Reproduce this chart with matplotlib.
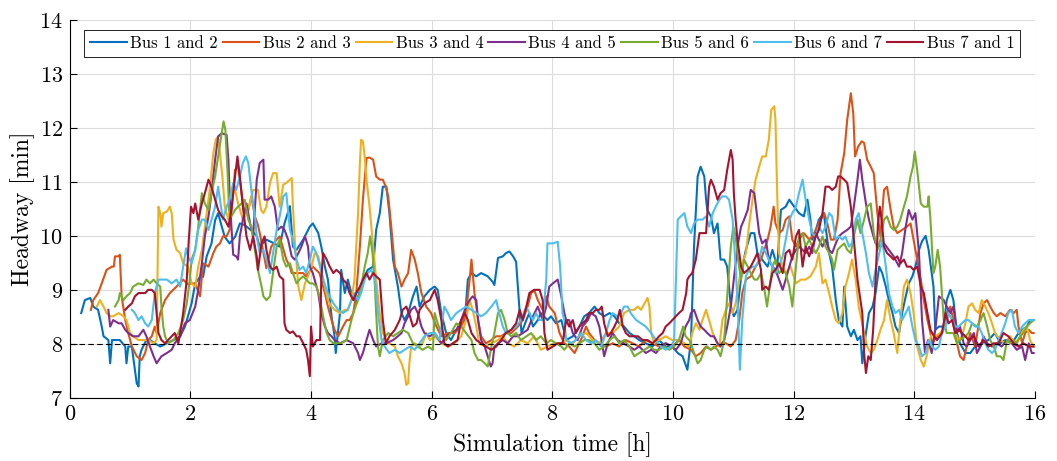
import matplotlib
matplotlib.use("Agg")
import matplotlib.pyplot as plt

plt.rcParams['font.family'] = 'serif'
plt.rcParams['font.serif'] = ['cmr10']
plt.rcParams['mathtext.fontset'] = 'cm'
plt.rcParams['axes.formatter.use_mathtext'] = True

# headway readings, (time [h], headway [min]) per bus pair
bus12 = [(0.19,8.57),(0.25,8.81),(0.34,8.85),(0.39,8.69),(0.47,8.63),(0.53,8.32),(0.56,8.14),(0.64,8.07),(0.67,7.64),(0.70,8.07),
         (0.75,8.07),(0.83,8.07),(0.92,7.95),(0.94,7.64),(0.97,7.95),(1.03,7.95),(1.05,7.77),(1.08,7.52),(1.11,7.27),(1.14,7.21),
         (1.16,7.77),(1.19,7.89),(1.27,8.07),(1.33,8.07),(1.41,8.01),(1.50,7.95),(1.61,8.01),(1.72,8.07),(1.83,8.14),(1.91,8.32),
         (1.96,8.51),(2.02,8.75),(2.08,9.12),(2.16,9.24),(2.21,9.24),(2.27,9.62),(2.35,9.86),(2.41,10.29),(2.46,10.42),(2.52,10.17),
         (2.57,9.98),(2.65,9.86),(2.74,9.98),(2.82,10.23),(2.90,10.20),(3.01,10.10),(3.10,10.00),(3.15,9.80),(3.26,9.93),(3.37,9.87),
         (3.48,9.80),(3.56,10.23),(3.65,10.55),(3.70,9.80),(3.76,9.74),(3.87,9.93),(3.98,10.17),(4.03,10.23),(4.12,10.05),(4.17,9.80),
         (4.23,9.43),(4.28,9.19),(4.34,8.51),(4.39,8.14),(4.41,7.83),(4.48,8.57),(4.50,9.37),(4.56,8.94),(4.61,9.19),(4.67,8.94),
         (4.75,8.75),(4.86,9.19),(4.94,9.37),(5.03,9.43),(5.08,10.11),(5.14,10.42),(5.19,10.91),(5.25,10.91),(5.30,10.42),(5.36,9.56),
         (5.44,9.06),(5.50,8.57),(5.55,8.44),(5.61,8.57),(5.69,8.88),(5.75,9.06),(5.80,8.69),(5.88,8.88),(5.97,9.00),(6.05,9.06),
         (6.10,9.00),(6.16,8.57),(6.24,8.20),(6.32,8.07),(6.38,8.20),(6.46,8.32),(6.55,8.44),(6.60,9.19),(6.66,9.31),(6.74,9.25),
         (6.82,9.31),(6.93,9.25),(7.01,9.15),(7.04,9.09),(7.10,9.59),(7.18,9.62),(7.23,9.68),(7.29,9.71),(7.35,9.62),(7.40,9.52),
         (7.46,8.57),(7.49,8.20),(7.57,8.44),(7.62,8.57),(7.68,8.32),(7.76,8.44),(7.81,8.57),(7.92,8.44),(7.98,8.51),(8.06,8.38),
         (8.15,8.44),(8.23,8.07),(8.34,8.14),(8.45,8.32),(8.53,8.51),(8.61,8.57),(8.70,8.69),(8.78,8.57),(8.86,8.51),(8.95,8.57),
         (9.03,8.51),(9.11,8.38),(9.19,8.32),(9.28,8.20),(9.36,8.14),(9.44,8.07),(9.55,8.01),(9.66,7.95),(9.77,8.07),(9.88,7.95),
         (9.99,7.95),(10.08,7.83),(10.16,7.77),(10.24,7.52),(10.30,8.07),(10.35,9.80),(10.41,11.10),(10.46,11.28),(10.52,11.10),(10.55,10.67),
         (10.57,10.48),(10.63,10.36),(10.68,10.05),(10.74,10.23),(10.79,9.56),(10.85,9.56),(10.90,9.43),(10.96,8.69),(11.01,8.51),(11.07,8.63),
         (11.15,9.43),(11.21,9.74),(11.29,10.05),(11.35,10.05),(11.40,9.68),(11.48,9.56),(11.57,9.43),(11.65,9.74),(11.73,9.43),(11.79,10.48),
         (11.87,10.54),(11.93,10.67),(12.01,10.54),(12.09,10.42),(12.17,10.36),(12.23,10.67),(12.28,10.30),(12.31,9.93),(12.37,10.11),(12.42,10.30),
         (12.50,10.42),(12.59,9.68),(12.64,9.43),(12.70,8.81),(12.75,8.44),(12.81,8.32),(12.84,9.06),(12.89,8.32),(12.95,8.14),(13.00,8.26),
         (13.06,8.07),(13.11,8.14),(13.14,7.64),(13.20,8.20),(13.25,8.57),(13.31,8.69),(13.36,8.94),(13.42,9.43),(13.47,9.31),(13.53,9.06),
         (13.58,8.81),(13.64,8.57),(13.69,8.32),(13.75,8.20),(13.80,8.57),(13.86,8.88),(13.91,9.12),(13.97,9.25),(14.02,9.43),(14.08,9.74),
         (14.13,9.90),(14.19,10.00),(14.24,9.74),(14.32,9.06),(14.35,8.26),(14.41,8.32),(14.49,8.32),(14.54,8.81),(14.60,9.00),(14.65,8.81),
         (14.71,8.20),(14.76,8.01),(14.85,7.83),(14.93,7.83),(15.01,7.95),(15.12,8.01),(15.23,8.07),(15.34,8.20),(15.43,8.01),(15.51,8.07),
         (15.62,8.01),(15.73,8.20),(15.79,8.26),(15.87,8.32),(15.92,8.44),(15.98,8.44)]

bus23 = [(0.35,8.63),(0.39,8.81),(0.47,8.94),(0.53,9.12),(0.61,9.37),(0.70,9.43),(0.73,9.43),(0.75,9.62),(0.81,9.62),(0.83,9.65),
         (0.86,8.88),(0.92,8.44),(0.97,8.20),(1.03,7.95),(1.11,7.77),(1.19,7.70),(1.25,7.83),(1.30,8.07),(1.36,8.14),(1.41,8.32),
         (1.44,8.20),(1.50,8.57),(1.58,8.81),(1.66,8.94),(1.77,9.06),(1.88,9.19),(1.96,9.10),(2.02,9.12),(2.08,9.12),(2.16,8.88),
         (2.21,9.49),(2.30,9.43),(2.38,9.68),(2.43,9.80),(2.49,9.86),(2.54,9.99),(2.60,9.99),(2.65,10.11),(2.71,10.79),(2.74,11.22),
         (2.79,11.28),(2.85,10.79),(2.90,10.36),(2.96,10.48),(3.01,10.73),(3.07,10.36),(3.12,10.20),(3.15,10.05),(3.26,9.40),(3.34,9.80),
         (3.43,9.93),(3.48,9.99),(3.59,9.56),(3.65,9.43),(3.68,9.31),(3.76,9.31),(3.87,9.31),(3.92,9.25),(4.03,9.43),(4.14,9.31),
         (4.23,8.94),(4.28,8.69),(4.34,8.44),(4.39,8.26),(4.45,8.14),(4.53,8.32),(4.59,8.44),(4.64,8.44),(4.70,8.57),(4.75,8.94),
         (4.81,9.80),(4.86,10.67),(4.92,11.44),(4.97,11.45),(5.03,11.41),(5.08,11.10),(5.14,11.04),(5.19,11.04),(5.24,10.91),(5.28,10.73),
         (5.33,10.17),(5.39,9.43),(5.44,9.31),(5.50,9.06),(5.55,9.19),(5.61,9.31),(5.66,9.74),(5.72,9.56),(5.77,9.31),(5.83,8.94),
         (5.91,8.69),(5.99,8.57),(6.08,8.32),(6.16,8.14),(6.27,8.20),(6.38,8.20),(6.49,8.32),(6.57,8.57),(6.63,9.19),(6.66,9.56),
         (6.68,9.31),(6.71,8.94),(6.77,8.44),(6.82,8.14),(6.90,8.01),(6.99,8.07),(7.07,8.14),(7.15,8.14),(7.23,8.20),(7.32,8.20),
         (7.43,8.32),(7.51,8.44),(7.59,8.69),(7.65,8.94),(7.70,9.00),(7.76,8.81),(7.84,8.63),(7.90,8.88),(7.95,8.69),(8.04,8.57),
         (8.12,8.20),(8.20,8.01),(8.28,7.95),(8.37,7.83),(8.42,7.95),(8.50,8.14),(8.56,8.32),(8.61,8.20),(8.70,8.07),(8.78,8.01),
         (8.89,7.95),(9.00,8.01),(9.11,7.95),(9.22,8.07),(9.33,8.01),(9.44,7.95),(9.55,8.07),(9.66,8.01),(9.77,7.95),(9.88,8.01),
         (9.99,7.95),(10.10,8.07),(10.19,7.95),(10.30,7.89),(10.38,7.77),(10.46,7.83),(10.55,7.95),(10.63,7.89),(10.71,7.95),(10.79,8.01),
         (10.88,8.01),(10.96,7.95),(11.04,8.07),(11.10,8.44),(11.15,8.94),(11.21,9.19),(11.29,9.25),(11.37,9.43),(11.46,9.56),(11.57,9.93),
         (11.62,10.17),(11.67,10.54),(11.70,10.23),(11.76,10.05),(11.82,10.11),(11.87,10.30),(11.93,10.36),(11.98,9.93),(12.04,9.80),(12.09,9.93),
         (12.17,10.05),(12.26,9.93),(12.31,9.99),(12.37,10.11),(12.45,10.30),(12.51,10.42),(12.56,10.23),(12.62,9.93),(12.67,9.93),(12.73,10.30),
         (12.78,11.16),(12.84,11.53),(12.89,12.15),(12.95,12.64),(12.99,12.27),(13.02,11.47),(13.07,11.65),(13.13,11.75),(13.17,11.72),(13.22,11.41),
         (13.28,11.28),(13.33,11.16),(13.39,10.42),(13.44,9.99),(13.50,10.85),(13.55,10.91),(13.61,10.48),(13.66,10.17),(13.72,10.05),(13.80,10.11),
         (13.88,10.17),(13.94,10.23),(13.99,9.93),(14.05,9.56),(14.11,9.19),(14.16,8.81),(14.22,8.44),(14.27,8.20),(14.30,8.01),(14.38,8.14),
         (14.46,8.20),(14.54,8.57),(14.60,8.69),(14.65,8.44),(14.71,8.01),(14.76,7.77),(14.82,7.70),(14.87,7.95),(14.93,8.20),(15.01,7.95),
         (15.10,8.57),(15.15,8.75),(15.21,8.81),(15.26,8.69),(15.32,8.57),(15.37,8.51),(15.43,8.57),(15.51,8.51),(15.59,8.63),(15.65,8.57),
         (15.70,8.63),(15.73,8.32),(15.79,8.01),(15.84,8.20),(15.90,8.26),(15.95,8.20),(15.98,8.20)]

bus34 = [(0.45,8.69),(0.50,8.81),(0.56,8.69),(0.61,8.57),(0.67,8.51),(0.72,8.51),(0.81,8.57),(0.89,8.51),(0.94,8.44),(1.00,8.20),
         (1.05,8.14),(1.14,8.07),(1.22,8.07),(1.30,8.07),(1.39,8.01),(1.44,8.07),(1.47,10.54),(1.50,10.42),(1.52,10.17),(1.55,10.42),
         (1.61,10.45),(1.66,10.54),(1.69,10.42),(1.72,9.93),(1.77,9.74),(1.83,9.68),(1.88,9.49),(1.96,9.43),(2.02,9.12),(2.08,9.06),
         (2.13,9.43),(2.19,9.74),(2.24,10.17),(2.32,10.85),(2.38,11.53),(2.42,11.78),(2.46,11.84),(2.49,11.53),(2.53,11.10),(2.57,10.54),
         (2.63,10.30),(2.68,10.73),(2.74,10.85),(2.79,10.60),(2.87,10.30),(2.96,10.48),(3.04,10.85),(3.12,10.85),(3.17,10.48),(3.21,10.42),
         (3.26,10.54),(3.32,10.98),(3.37,11.16),(3.43,11.16),(3.48,10.54),(3.54,10.95),(3.59,10.98),(3.68,11.07),(3.70,10.54),(3.73,9.93),
         (3.79,9.06),(3.84,8.81),(3.90,9.12),(3.95,9.25),(4.01,9.43),(4.06,9.68),(4.12,9.62),(4.17,9.37),(4.23,9.06),(4.28,8.81),
         (4.34,8.69),(4.39,8.63),(4.48,8.57),(4.56,8.63),(4.61,8.63),(4.67,8.81),(4.72,9.19),(4.78,10.42),(4.81,11.35),(4.83,11.78),
         (4.86,11.75),(4.89,11.47),(4.92,11.04),(4.97,10.54),(5.03,9.80),(5.08,9.19),(5.14,8.57),(5.19,8.20),(5.25,8.07),(5.30,8.01),
         (5.39,7.95),(5.44,7.77),(5.50,7.64),(5.55,7.46),(5.58,7.24),(5.61,7.27),(5.63,7.64),(5.66,7.95),(5.72,8.01),(5.80,7.95),
         (5.85,8.01),(5.91,8.20),(5.97,8.07),(6.05,8.14),(6.16,8.01),(6.27,7.95),(6.38,8.01),(6.49,8.14),(6.57,8.44),(6.63,8.81),
         (6.68,8.63),(6.74,8.32),(6.79,8.01),(6.88,7.95),(6.99,8.01),(7.10,8.07),(7.18,8.14),(7.26,8.01),(7.37,7.95),(7.48,8.07),
         (7.59,8.01),(7.70,8.14),(7.81,7.89),(7.92,7.95),(8.03,8.01),(8.15,8.01),(8.23,8.07),(8.34,8.01),(8.45,8.14),(8.56,8.20),
         (8.67,8.07),(8.78,8.01),(8.89,8.20),(9.00,8.20),(9.11,8.32),(9.19,8.57),(9.28,8.63),(9.36,8.63),(9.42,8.69),(9.47,8.63),
         (9.53,8.75),(9.58,8.85),(9.61,8.69),(9.64,8.20),(9.69,8.01),(9.77,8.07),(9.88,8.14),(9.99,8.07),(10.10,8.07),(10.19,8.01),
         (10.27,7.95),(10.32,8.20),(10.38,8.38),(10.44,8.26),(10.49,8.44),(10.55,8.63),(10.60,8.44),(10.66,8.20),(10.71,8.07),(10.77,7.95),
         (10.82,8.44),(10.88,8.63),(10.93,8.75),(10.99,8.57),(11.04,8.75),(11.10,9.19),(11.15,9.49),(11.21,9.68),(11.26,10.17),(11.32,10.67),
         (11.37,11.04),(11.43,11.28),(11.48,11.47),(11.54,11.47),(11.59,11.78),(11.63,12.33),(11.68,12.40),(11.70,12.15),(11.73,10.73),(11.76,9.68),
         (11.82,9.43),(11.87,9.31),(11.95,9.43),(12.04,9.12),(12.12,9.19),(12.20,9.19),(12.28,9.25),(12.31,9.31),(12.37,9.43),(12.42,9.68),
         (12.48,9.12),(12.53,9.19),(12.59,8.94),(12.64,8.69),(12.70,8.44),(12.75,8.38),(12.81,8.57),(12.86,9.06),(12.92,9.31),(12.97,9.56),
         (13.03,9.19),(13.08,8.69),(13.17,8.20),(13.22,7.95),(13.28,7.83),(13.33,7.89),(13.39,8.07),(13.44,8.26),(13.50,8.44),(13.55,8.81),
         (13.61,8.44),(13.66,8.20),(13.72,7.83),(13.77,8.44),(13.83,9.06),(13.88,9.19),(13.94,8.94),(13.99,8.57),(14.05,7.95),(14.11,7.70),
         (14.16,7.58),(14.22,7.83),(14.24,8.01),(14.30,8.20),(14.35,8.14),(14.43,8.20),(14.52,8.32),(14.57,8.57),(14.63,8.44),(14.68,8.20),
         (14.74,8.07),(14.79,8.14),(14.85,8.38),(14.90,8.69),(14.96,8.75),(15.01,8.63),(15.07,8.57),(15.12,8.81),(15.18,8.69),(15.23,8.57),
         (15.29,8.38),(15.34,8.20),(15.43,8.07),(15.51,8.01),(15.59,8.14),(15.67,8.01),(15.76,8.14),(15.81,8.26),(15.87,8.32),(15.92,8.07),
         (15.98,7.95)]

bus45 = [(0.64,8.63),(0.67,8.32),(0.72,8.44),(0.81,8.38),(0.86,8.38),(0.92,8.26),(0.97,8.20),(1.05,8.14),(1.14,8.14),(1.22,8.26),
         (1.27,8.14),(1.33,7.95),(1.39,7.77),(1.44,7.64),(1.52,7.77),(1.61,7.83),(1.69,7.89),(1.74,8.01),(1.83,8.14),(1.91,8.38),
         (1.99,8.44),(2.08,8.69),(2.13,9.00),(2.19,9.49),(2.24,9.99),(2.30,10.36),(2.35,10.79),(2.41,11.41),(2.46,11.84),(2.52,11.90),
         (2.60,11.87),(2.63,11.41),(2.65,10.79),(2.68,10.17),(2.71,9.65),(2.76,9.62),(2.79,9.56),(2.82,9.99),(2.87,10.30),(2.93,10.60),
         (2.99,10.23),(3.04,9.99),(3.10,11.04),(3.15,11.35),(3.21,11.41),(3.23,10.67),(3.29,10.67),(3.34,10.73),(3.40,10.54),(3.45,10.11),
         (3.51,10.17),(3.56,10.11),(3.62,9.93),(3.68,9.62),(3.73,9.56),(3.79,9.68),(3.84,9.80),(3.90,9.99),(3.95,9.80),(3.98,9.43),
         (4.03,9.31),(4.12,8.94),(4.17,8.57),(4.23,8.32),(4.28,8.20),(4.34,8.14),(4.39,8.07),(4.48,8.01),(4.59,8.07),(4.70,8.01),
         (4.78,7.83),(4.81,7.70),(4.86,7.83),(4.92,8.07),(4.97,8.26),(5.03,8.07),(5.08,7.95),(5.17,8.01),(5.25,8.01),(5.36,8.07),
         (5.44,8.14),(5.50,8.20),(5.55,8.38),(5.61,8.51),(5.66,8.63),(5.72,8.69),(5.77,8.57),(5.83,8.32),(5.88,8.20),(5.97,8.14),
         (6.05,8.20),(6.16,8.01),(6.24,8.14),(6.32,8.20),(6.41,8.26),(6.49,8.44),(6.57,8.69),(6.63,8.81),(6.68,8.88),(6.74,8.81),
         (6.77,8.44),(6.82,8.07),(6.88,7.95),(6.93,7.77),(6.98,7.58),(7.01,7.64),(7.04,7.95),(7.10,8.01),(7.18,8.07),(7.26,8.01),
         (7.35,8.14),(7.43,8.14),(7.51,8.20),(7.59,8.26),(7.68,8.51),(7.76,8.69),(7.84,8.44),(7.90,8.69),(7.95,9.06),(8.01,9.12),
         (8.09,9.19),(8.15,8.88),(8.20,8.57),(8.23,8.44),(8.28,8.44),(8.34,8.20),(8.42,8.07),(8.50,8.32),(8.59,8.44),(8.64,8.57),
         (8.72,8.51),(8.78,8.32),(8.86,7.77),(8.92,8.01),(9.00,8.20),(9.08,8.07),(9.17,8.01),(9.28,7.95),(9.36,7.89),(9.44,7.95),
         (9.55,7.83),(9.64,7.89),(9.72,7.83),(9.80,7.95),(9.88,8.01),(9.97,7.95),(10.05,7.89),(10.13,8.01),(10.21,8.32),(10.27,8.44),
         (10.30,8.57),(10.35,8.63),(10.41,8.44),(10.46,8.32),(10.52,8.26),(10.57,8.20),(10.63,8.14),(10.68,8.14),(10.74,8.01),(10.79,7.95),
         (10.85,8.07),(10.90,8.32),(10.96,8.69),(11.01,9.19),(11.07,9.80),(11.13,10.17),(11.18,10.30),(11.24,10.48),(11.29,10.85),(11.35,10.79),
         (11.39,10.42),(11.43,10.05),(11.48,9.86),(11.54,9.93),(11.59,9.56),(11.65,9.43),(11.70,9.37),(11.76,9.19),(11.82,9.00),(11.87,9.19),
         (11.93,9.43),(11.98,9.62),(12.04,9.74),(12.09,9.80),(12.15,9.74),(12.20,9.68),(12.26,9.80),(12.31,9.68),(12.37,10.05),(12.42,9.93),
         (12.48,9.80),(12.53,9.93),(12.59,9.74),(12.64,9.68),(12.70,9.86),(12.75,9.99),(12.81,10.05),(12.89,10.11),(12.95,10.17),(13.00,10.54),
         (13.06,11.04),(13.10,11.41),(13.14,11.04),(13.20,10.60),(13.25,10.30),(13.31,10.05),(13.36,9.86),(13.44,9.80),(13.50,9.86),(13.58,9.74),
         (13.66,9.62),(13.75,9.43),(13.80,9.68),(13.86,10.17),(13.91,10.48),(13.97,10.30),(14.02,10.42),(14.08,9.68),(14.13,8.44),(14.18,7.83),
         (14.23,8.07),(14.29,7.83),(14.35,8.26),(14.41,8.88),(14.49,8.81),(14.54,8.69),(14.60,8.57),(14.65,8.69),(14.71,8.20),(14.76,8.32),
         (14.82,8.01),(14.87,7.95),(14.93,8.07),(14.99,8.20),(15.04,7.83),(15.10,7.95),(15.15,8.14),(15.21,8.01),(15.29,7.95),(15.37,8.01),
         (15.45,7.95),(15.54,8.07),(15.62,8.01),(15.70,7.89),(15.79,7.95),(15.84,7.70),(15.90,8.01),(15.95,7.83),(15.98,7.83)]

bus56 = [(0.75,8.69),(0.81,8.81),(0.83,8.94),(0.89,8.81),(0.94,8.88),(1.00,8.94),(1.05,9.06),(1.14,9.12),(1.22,9.09),(1.27,9.19),
         (1.33,9.12),(1.39,9.19),(1.44,9.12),(1.50,9.06),(1.52,8.69),(1.55,8.32),(1.58,8.14),(1.63,8.01),(1.72,8.07),(1.80,8.20),
         (1.88,8.44),(1.94,8.75),(1.99,9.19),(2.02,9.56),(2.08,9.74),(2.13,10.17),(2.19,10.79),(2.24,10.60),(2.30,10.48),(2.35,10.79),
         (2.41,11.10),(2.46,11.47),(2.52,11.90),(2.55,12.12),(2.58,11.96),(2.62,11.10),(2.64,10.48),(2.68,10.36),(2.74,10.48),(2.79,10.54),
         (2.85,10.60),(2.90,10.67),(2.96,10.30),(3.01,10.17),(3.07,9.74),(3.12,9.37),(3.18,9.06),(3.21,8.88),(3.26,8.81),(3.32,8.88),
         (3.37,9.31),(3.43,9.80),(3.48,9.93),(3.54,9.56),(3.59,9.43),(3.65,9.49),(3.70,9.31),(3.76,9.12),(3.81,9.19),(3.87,9.25),
         (3.92,9.19),(3.98,9.12),(4.03,9.12),(4.09,9.06),(4.14,8.88),(4.20,8.51),(4.26,8.20),(4.31,8.07),(4.37,8.01),(4.42,8.01),
         (4.50,8.01),(4.59,8.07),(4.67,8.44),(4.72,8.63),(4.78,8.81),(4.83,9.06),(4.89,9.43),(4.94,9.68),(4.98,9.99),(5.02,9.68),
         (5.06,9.06),(5.08,8.57),(5.11,7.95),(5.14,7.77),(5.19,8.07),(5.28,8.20),(5.36,8.14),(5.44,8.20),(5.52,8.26),(5.61,8.20),
         (5.69,8.01),(5.77,7.95),(5.85,7.89),(5.94,7.95),(6.02,7.89),(6.05,8.57),(6.10,8.38),(6.16,8.20),(6.24,8.07),(6.32,8.20),
         (6.41,8.38),(6.49,8.32),(6.57,8.20),(6.66,8.07),(6.71,7.83),(6.77,7.70),(6.82,7.70),(6.88,7.64),(6.93,7.58),(6.99,7.95),
         (7.04,8.20),(7.10,8.57),(7.15,8.63),(7.21,8.44),(7.26,8.20),(7.32,8.14),(7.40,8.20),(7.48,8.07),(7.57,8.14),(7.65,8.20),
         (7.73,8.07),(7.81,8.14),(7.90,8.01),(7.98,8.07),(8.06,8.01),(8.15,7.95),(8.20,7.89),(8.28,8.01),(8.37,7.95),(8.45,8.01),
         (8.53,8.07),(8.61,8.07),(8.70,8.01),(8.78,7.89),(8.86,7.95),(8.95,8.07),(9.03,8.14),(9.11,8.01),(9.19,8.07),(9.28,7.95),
         (9.36,7.77),(9.44,7.83),(9.53,7.89),(9.61,7.95),(9.69,7.89),(9.77,7.89),(9.86,7.95),(9.94,7.89),(10.02,7.95),(10.10,8.07),
         (10.17,8.32),(10.21,8.14),(10.27,8.07),(10.30,8.01),(10.35,7.83),(10.41,7.64),(10.46,7.70),(10.52,7.89),(10.57,7.95),(10.63,7.89),
         (10.68,7.95),(10.74,7.89),(10.79,7.77),(10.85,8.07),(10.90,8.88),(10.96,9.80),(11.00,10.17),(11.04,9.99),(11.08,9.56),(11.13,9.19),
         (11.18,9.56),(11.24,9.43),(11.29,9.31),(11.35,9.19),(11.40,9.19),(11.46,9.31),(11.51,9.06),(11.56,8.69),(11.59,8.94),(11.65,9.43),
         (11.70,9.56),(11.76,9.31),(11.82,9.37),(11.87,9.31),(11.93,9.06),(11.98,8.69),(12.04,9.43),(12.09,9.99),(12.15,10.05),(12.20,9.80),
         (12.26,9.93),(12.31,9.80),(12.37,9.68),(12.42,9.80),(12.48,9.99),(12.53,9.80),(12.59,9.68),(12.64,9.56),(12.67,9.37),(12.73,9.74),
         (12.78,9.80),(12.84,9.86),(12.89,9.74),(12.95,9.68),(13.00,9.99),(13.06,10.30),(13.11,10.05),(13.17,10.30),(13.22,10.54),(13.28,10.60),
         (13.33,10.05),(13.39,9.74),(13.44,9.93),(13.50,10.30),(13.55,10.36),(13.61,10.17),(13.66,10.11),(13.72,10.17),(13.77,10.30),(13.83,10.54),
         (13.88,10.73),(13.94,11.10),(13.98,11.28),(14.01,11.56),(14.05,11.22),(14.11,10.60),(14.16,10.54),(14.22,10.54),(14.24,10.73),(14.27,10.30),
         (14.30,9.68),(14.32,9.31),(14.35,9.43),(14.39,9.74),(14.43,9.43),(14.46,8.94),(14.49,8.44),(14.54,8.20),(14.60,8.20),(14.65,8.20),
         (14.71,8.01),(14.76,8.07),(14.85,8.14),(14.90,8.20),(14.96,8.38),(15.04,8.32),(15.10,8.44),(15.15,8.57),(15.21,8.32),(15.26,8.07),
         (15.32,7.95),(15.37,7.77),(15.43,7.77),(15.48,7.70),(15.54,8.07),(15.59,8.01),(15.65,8.07),(15.70,8.01),(15.76,8.14),(15.81,8.20),
         (15.87,8.32),(15.92,8.38),(15.98,8.44)]

bus67 = [(1.03,8.63),(1.08,8.57),(1.14,8.44),(1.19,8.51),(1.25,8.38),(1.30,8.32),(1.36,8.44),(1.41,8.94),(1.47,9.19),(1.52,9.19),
         (1.61,9.19),(1.69,9.12),(1.77,9.19),(1.83,9.06),(1.88,9.43),(1.93,9.77),(1.96,9.62),(2.02,9.49),(2.08,9.74),(2.13,10.11),
         (2.19,10.30),(2.24,10.30),(2.30,10.11),(2.35,10.30),(2.41,10.54),(2.46,10.91),(2.49,10.67),(2.54,10.30),(2.60,10.54),(2.65,10.67),
         (2.71,10.98),(2.76,10.85),(2.82,11.10),(2.87,11.35),(2.92,11.47),(2.96,11.35),(3.01,10.85),(3.07,10.36),(3.10,9.99),(3.15,9.68),
         (3.21,9.74),(3.26,9.56),(3.32,9.31),(3.37,9.68),(3.43,10.11),(3.48,10.36),(3.54,10.73),(3.59,10.79),(3.65,10.11),(3.70,9.93),
         (3.76,9.56),(3.81,9.37),(3.87,9.43),(3.92,9.31),(3.98,9.56),(4.03,9.80),(4.09,9.68),(4.15,9.43),(4.20,9.19),(4.28,8.94),
         (4.37,8.75),(4.45,8.63),(4.53,8.57),(4.61,8.63),(4.67,8.81),(4.72,8.94),(4.78,8.81),(4.83,8.94),(4.89,9.19),(4.94,9.31),
         (5.00,9.37),(5.06,9.19),(5.11,8.57),(5.17,8.07),(5.22,7.95),(5.30,7.83),(5.39,7.89),(5.47,7.83),(5.55,7.89),(5.64,7.95),
         (5.72,7.89),(5.80,8.01),(5.88,8.14),(5.97,8.20),(6.05,8.20),(6.13,8.07),(6.21,8.69),(6.27,8.57),(6.32,8.44),(6.41,8.57),
         (6.49,8.63),(6.57,8.69),(6.66,8.63),(6.74,8.57),(6.82,8.51),(6.90,8.57),(6.99,8.69),(7.07,8.81),(7.12,8.57),(7.18,8.32),
         (7.23,8.20),(7.32,8.26),(7.40,8.32),(7.48,8.44),(7.57,8.69),(7.62,8.57),(7.68,8.44),(7.73,8.57),(7.79,8.44),(7.84,8.44),
         (7.90,9.19),(7.92,9.86),(8.01,9.86),(8.09,9.89),(8.13,9.43),(8.17,8.57),(8.20,8.44),(8.23,8.07),(8.31,8.01),(8.39,8.07),
         (8.48,8.20),(8.56,8.07),(8.64,8.01),(8.72,8.07),(8.81,7.95),(8.89,8.20),(8.95,8.44),(9.00,8.57),(9.08,8.51),(9.14,8.57),
         (9.19,8.69),(9.25,8.69),(9.30,8.57),(9.39,8.44),(9.47,8.38),(9.55,8.32),(9.64,8.20),(9.72,8.07),(9.80,7.95),(9.88,7.89),
         (9.97,7.95),(10.02,8.07),(10.05,9.19),(10.08,10.30),(10.13,10.36),(10.19,10.42),(10.24,10.17),(10.30,10.05),(10.35,10.23),(10.41,10.30),
         (10.49,10.30),(10.55,10.36),(10.60,10.17),(10.66,10.42),(10.71,10.54),(10.77,10.67),(10.82,10.73),(10.88,10.73),(10.93,10.67),(10.99,10.30),
         (11.04,9.43),(11.08,8.57),(11.11,7.52),(11.15,8.44),(11.21,9.25),(11.26,9.37),(11.32,9.43),(11.37,9.43),(11.43,9.56),(11.48,9.80),
         (11.54,9.68),(11.59,9.56),(11.65,9.43),(11.70,9.31),(11.76,9.43),(11.82,9.62),(11.87,9.93),(11.93,10.30),(11.98,10.42),(12.04,10.54),
         (12.09,10.79),(12.15,11.04),(12.20,10.67),(12.26,10.30),(12.31,10.05),(12.37,9.99),(12.42,10.17),(12.48,10.05),(12.53,10.17),(12.59,10.42),
         (12.64,10.36),(12.70,9.93),(12.75,9.99),(12.81,9.93),(12.86,9.99),(12.92,9.80),(12.97,9.86),(13.03,10.30),(13.08,10.42),(13.14,10.05),
         (13.20,9.68),(13.25,9.31),(13.31,9.06),(13.36,9.37),(13.42,9.68),(13.47,9.93),(13.53,9.43),(13.58,8.94),(13.64,8.69),(13.69,8.57),
         (13.75,8.63),(13.80,8.44),(13.86,8.57),(13.91,8.69),(13.97,8.32),(14.02,8.07),(14.08,7.95),(14.13,7.77),(14.19,7.83),(14.24,8.07),
         (14.30,7.95),(14.35,7.89),(14.41,7.95),(14.46,8.20),(14.52,8.32),(14.57,8.57),(14.63,8.44),(14.68,8.32),(14.74,8.32),(14.79,8.38),
         (14.85,8.44),(14.90,8.44),(14.96,8.38),(15.01,8.32),(15.07,8.32),(15.12,8.20),(15.18,8.01),(15.23,7.89),(15.29,7.83),(15.34,7.89),
         (15.40,8.07),(15.45,8.20),(15.51,8.38),(15.56,8.57),(15.62,8.63),(15.67,8.32),(15.73,8.20),(15.79,8.32),(15.84,8.38),(15.90,8.44),
         (15.95,8.44),(15.98,8.44)]

bus71 = [(0.92,8.63),(0.97,8.69),(1.03,8.75),(1.08,8.88),(1.14,8.94),(1.19,8.94),(1.25,8.94),(1.30,9.00),(1.36,9.00),(1.41,8.94),
         (1.44,8.57),(1.47,8.20),(1.52,8.07),(1.58,8.01),(1.63,8.07),(1.69,8.14),(1.74,8.20),(1.80,8.01),(1.83,8.20),(1.88,8.57),
         (1.94,9.19),(1.97,9.86),(2.01,10.54),(2.05,10.42),(2.08,10.60),(2.13,10.30),(2.19,10.60),(2.24,10.79),(2.30,11.04),(2.35,10.91),
         (2.41,10.67),(2.46,10.48),(2.52,10.36),(2.57,10.30),(2.63,10.17),(2.68,10.48),(2.74,11.10),(2.78,11.47),(2.82,11.10),(2.87,10.54),
         (2.93,9.99),(2.99,9.74),(3.04,9.99),(3.10,9.62),(3.12,9.37),(3.18,9.86),(3.23,9.99),(3.26,9.74),(3.32,9.43),(3.37,9.37),
         (3.43,9.43),(3.48,9.25),(3.54,9.19),(3.56,8.38),(3.59,8.26),(3.65,8.20),(3.70,8.23),(3.76,8.14),(3.81,8.14),(3.87,8.01),
         (3.92,7.89),(3.95,7.70),(3.98,7.40),(4.00,8.32),(4.03,7.95),(4.09,8.07),(4.15,8.07),(4.17,9.19),(4.20,9.68),(4.26,9.56),
         (4.31,9.43),(4.37,9.31),(4.42,9.37),(4.48,9.31),(4.53,9.19),(4.59,9.12),(4.64,8.94),(4.70,8.81),(4.75,8.94),(4.81,9.06),
         (4.86,9.19),(4.92,9.31),(4.97,9.19),(5.03,9.31),(5.08,9.25),(5.14,9.19),(5.19,8.44),(5.24,8.01),(5.30,8.14),(5.39,8.26),
         (5.47,8.44),(5.52,8.63),(5.58,8.69),(5.64,8.51),(5.69,8.32),(5.75,8.38),(5.80,8.63),(5.88,8.75),(5.97,8.81),(6.05,9.00),
         (6.10,8.81),(6.16,8.44),(6.21,8.01),(6.27,7.95),(6.35,8.01),(6.43,8.07),(6.49,8.44),(6.55,8.57),(6.60,8.44),(6.66,8.20),
         (6.74,8.07),(6.82,8.01),(6.90,7.95),(6.99,7.89),(7.07,7.95),(7.15,8.07),(7.23,8.20),(7.32,8.26),(7.40,8.38),(7.46,8.63),
         (7.51,8.44),(7.57,8.69),(7.62,8.94),(7.70,9.00),(7.79,9.00),(7.84,8.81),(7.87,8.20),(7.92,7.89),(8.01,7.95),(8.09,8.01),
         (8.17,8.01),(8.23,8.44),(8.28,8.32),(8.34,8.44),(8.39,8.20),(8.45,8.32),(8.50,8.38),(8.56,8.44),(8.61,8.57),(8.67,8.57),
         (8.72,8.63),(8.78,8.63),(8.82,8.69),(8.86,8.38),(8.92,8.14),(8.97,8.20),(9.03,8.32),(9.08,8.44),(9.12,8.63),(9.17,8.32),
         (9.22,8.20),(9.28,8.14),(9.33,8.14),(9.42,8.14),(9.50,8.07),(9.58,8.07),(9.66,8.01),(9.72,8.07),(9.77,8.14),(9.83,8.20),
         (9.88,8.32),(9.94,8.38),(9.99,8.44),(10.05,8.51),(10.10,8.57),(10.16,8.63),(10.22,8.94),(10.24,9.19),(10.27,9.25),(10.32,9.31),
         (10.38,9.56),(10.44,10.05),(10.49,10.05),(10.55,10.05),(10.60,10.91),(10.63,11.04),(10.68,10.91),(10.74,10.67),(10.79,10.79),(10.85,10.85),
         (10.90,11.22),(10.96,11.59),(10.99,11.41),(11.01,10.79),(11.04,10.30),(11.07,9.93),(11.13,9.43),(11.18,9.31),(11.24,9.37),(11.29,9.43),
         (11.35,9.56),(11.40,9.68),(11.46,9.37),(11.48,9.00),(11.54,9.06),(11.59,9.00),(11.65,9.31),(11.70,9.37),(11.76,9.49),(11.82,9.31),
         (11.87,9.68),(11.93,9.74),(11.98,9.56),(12.04,9.99),(12.09,10.11),(12.15,9.43),(12.20,9.80),(12.26,9.62),(12.31,9.80),(12.37,9.99),
         (12.42,10.11),(12.48,10.42),(12.53,10.91),(12.59,10.91),(12.64,10.85),(12.70,10.91),(12.74,11.10),(12.78,11.10),(12.84,11.04),(12.89,10.98),
         (12.95,10.54),(13.00,9.93),(13.06,9.19),(13.11,8.81),(13.14,8.57),(13.17,7.83),(13.20,7.46),(13.24,7.77),(13.28,7.70),(13.32,8.26),
         (13.36,9.19),(13.40,10.23),(13.43,10.54),(13.46,10.30),(13.50,9.80),(13.55,9.68),(13.61,9.62),(13.66,9.56),(13.72,9.62),(13.77,9.49),
         (13.83,9.56),(13.88,9.43),(13.94,9.43),(13.99,9.37),(14.05,9.43),(14.11,9.06),(14.16,8.94),(14.22,8.57),(14.27,8.26),(14.33,8.14),
         (14.38,8.07),(14.46,8.20),(14.52,8.57),(14.57,8.38),(14.63,8.44),(14.68,8.20),(14.74,8.26),(14.79,8.20),(14.85,8.14),(14.90,8.07),
         (14.99,8.14),(15.07,7.95),(15.15,8.07),(15.23,7.95),(15.32,8.01),(15.40,8.01),(15.48,8.20),(15.56,8.14),(15.65,8.01),(15.73,7.95),
         (15.81,8.01),(15.90,7.95),(15.98,7.95)]

series = [bus12, bus23, bus34, bus45, bus56, bus67, bus71]
labels = ['Bus 1 and 2', 'Bus 2 and 3', 'Bus 3 and 4', 'Bus 4 and 5',
          'Bus 5 and 6', 'Bus 6 and 7', 'Bus 7 and 1']
colors = ['#0072BD', '#D95319', '#EDB120', '#7E2F8E', '#77AC30', '#4DBEEE', '#A2142F']
target_headway = 8

fig = plt.figure(figsize=(10.57, 4.61), dpi=100)
ax = fig.add_axes([0.066, 0.137, 0.913, 0.82])

for data, lab, col in zip(series, labels, colors):
    t, h = zip(*data)
    ax.plot(t, h, color=col, lw=1.5, label=lab)

ax.axhline(target_headway, color='k', ls=(0, (5, 3)), lw=0.8, zorder=5)

ax.set_xlim(0, 16)
ax.set_ylim(7, 14)
ax.set_xticks(range(0, 17, 2))
ax.set_yticks(range(7, 15))
ax.grid(True, color='#dcdcdc', lw=0.8)
ax.set_axisbelow(True)
ax.spines['top'].set_visible(False)
ax.spines['right'].set_visible(False)
ax.tick_params(direction='in', length=5, labelsize=16, width=0.8, pad=5)
ax.set_xlabel('Simulation time [h]', fontsize=17, labelpad=6)
ax.set_ylabel('Headway [min]', fontsize=17, labelpad=3)

leg = ax.legend(ncol=7, loc='upper center', bbox_to_anchor=(0.5, 0.995), fontsize=12,
                handlelength=2.2, handletextpad=0.2, columnspacing=0.3, borderpad=0.35,
                fancybox=False, framealpha=1, edgecolor='k')
leg.get_frame().set_linewidth(0.6)

fig.savefig('out.png', dpi=100)
